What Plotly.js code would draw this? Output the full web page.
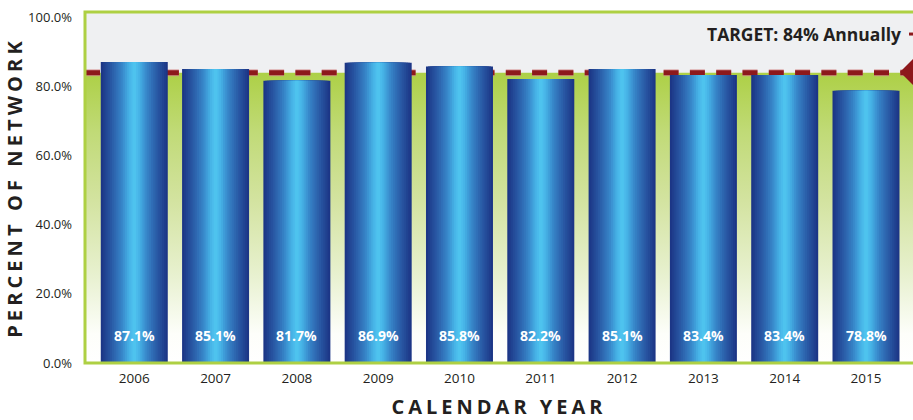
<!DOCTYPE html>
<html>
<head>
<meta charset="utf-8">
<script src="https://cdn.plot.ly/plotly-3.0.1.min.js"></script>
<style>
  html, body { margin: 0; padding: 0; background: #ffffff; }
  #chart { width: 913px; height: 420px; }
  .xtitle { letter-spacing: 4px; }
  .ytitle { letter-spacing: 4.1px; }
</style>
</head>
<body>
<div id="chart"></div>
<script>
// ---- data ----
const years = [2006, 2007, 2008, 2009, 2010, 2011, 2012, 2013, 2014, 2015];
const values = [87.1, 85.1, 81.7, 86.9, 85.8, 82.2, 85.1, 83.4, 83.4, 78.8];
const target = 84;
const yTickVals = [0, 20, 40, 60, 80, 100];
const yTickText = ['0.0%', '20.0%', '40.0%', '60.0%', '80.0%', '100.0%'];
const targetLabel = 'TARGET: 84% Annually';
const xTitle = 'CALENDAR YEAR';
const yTitle = 'PERCENT OF NETWORK';

// ---- styling helpers ----
const xRange = [years[0] - 0.606, years[0] + 9.578];
const yRange = [0, 101.6];
const barWidth = 0.824;
const darkRed = '#8d191c';
const textDark = '#231f20';

function hexToRgb(h) {
  h = h.replace('#', '');
  return [parseInt(h.slice(0, 2), 16), parseInt(h.slice(2, 4), 16), parseInt(h.slice(4, 6), 16)];
}
// colour as a function of distance from bar centre (0 = centre, 1 = edge)
const barStops = [
  [0.00, '#52caf2'],
  [0.18, '#46b2e6'],
  [0.42, '#3682c6'],
  [0.70, '#2a5ba6'],
  [1.00, '#1c3686']
];
function barColor(d) {
  for (let i = 1; i < barStops.length; i++) {
    if (d <= barStops[i][0]) {
      const [d0, c0] = barStops[i - 1];
      const [d1, c1] = barStops[i];
      const t = (d - d0) / (d1 - d0);
      const a = hexToRgb(c0), b = hexToRgb(c1);
      const c = a.map((v, k) => Math.round(v + (b[k] - v) * t));
      return 'rgb(' + c.join(',') + ')';
    }
  }
  return barStops[barStops.length - 1][1];
}

const traces = [];

// green gradient background below the target line
traces.push({
  type: 'scatter',
  x: xRange,
  y: [target, target],
  mode: 'none',
  fill: 'tozeroy',
  fillgradient: {
    type: 'vertical',
    colorscale: [
      [0.00, 'rgb(255,255,255)'],
      [0.10, 'rgb(253,254,250)'],
      [0.30, 'rgb(232,241,208)'],
      [0.56, 'rgb(211,227,160)'],
      [0.80, 'rgb(192,218,118)'],
      [1.00, 'rgb(173,208,70)']
    ]
  },
  hoverinfo: 'skip',
  showlegend: false
});

// target dashed line (halo + core)
traces.push({
  type: 'scatter',
  x: xRange,
  y: [target, target],
  mode: 'lines',
  line: { color: 'rgba(214,150,150,0.75)', width: 7, dash: '15px,11.3px' },
  hoverinfo: 'skip',
  showlegend: false
});
traces.push({
  type: 'scatter',
  x: xRange,
  y: [target, target],
  mode: 'lines',
  line: { color: darkRed, width: 5, dash: '15px,11.3px' },
  hoverinfo: 'skip',
  showlegend: false
});

// bars: layered overlay to emulate a horizontal cylinder gradient
const N = 18;
for (let k = 0; k < N; k++) {
  const frac = 1 - k / N;          // relative width of this layer
  traces.push({
    type: 'bar',
    x: years,
    y: values,
    yaxis: 'y2',
    width: barWidth * frac,
    marker: { color: barColor(frac), line: { width: 0 } },
    hoverinfo: k === 0 ? 'x+y' : 'skip',
    showlegend: false
  });
}

const annotations = years.map((yr, i) => ({
  x: yr,
  y: 8,
  xref: 'x',
  yref: 'y',
  text: values[i].toFixed(1) + '%',
  showarrow: false,
  font: { family: 'Open Sans, sans-serif', size: 14, color: '#ffffff', weight: 'bold' },
  xanchor: 'center',
  yanchor: 'middle'
}));

annotations.push({
  x: 0.9879,
  y: 0.9372,
  xref: 'paper',
  yref: 'paper',
  text: '<b>' + targetLabel + '</b>',
  showarrow: false,
  xanchor: 'right',
  yanchor: 'middle',
  font: { family: 'Open Sans, sans-serif', size: 17.5, color: textDark }
});

const shapes = [
  // plot border
  {
    type: 'rect', xref: 'paper', yref: 'paper',
    x0: 0, x1: 1.05, y0: 0, y1: 1,
    line: { color: '#aed043', width: 3 },
    fillcolor: 'rgba(0,0,0,0)',
    layer: 'above'
  },
  // arrow head at right end of target line
  {
    type: 'path', xref: 'paper', yref: 'paper',
    path: 'M 0.9843 0.8289 L 1.0036 0.8745 L 1.0036 0.7832 Z',
    fillcolor: darkRed,
    line: { width: 0 },
    layer: 'above'
  },
  // callout stub next to the label
  {
    type: 'line', xref: 'paper', yref: 'paper',
    x0: 0.9952, x1: 1.02, y0: 0.9372, y1: 0.9372,
    line: { color: darkRed, width: 3 },
    layer: 'above'
  }
];

const layout = {
  width: 913,
  height: 420,
  margin: { l: 85, r: 0, t: 12, b: 57.4, pad: 0 },
  paper_bgcolor: '#ffffff',
  plot_bgcolor: '#eff0f2',
  barmode: 'overlay',
  showlegend: false,
  font: { family: 'Open Sans, sans-serif', color: textDark },
  xaxis: {
    type: 'linear',
    range: xRange,
    tickvals: years,
    ticktext: years.map(String),
    showgrid: false,
    zeroline: false,
    showline: false,
    ticks: '',
    ticklabelstandoff: 5,
    tickfont: { family: 'Open Sans, sans-serif', size: 13.5, color: textDark },
    title: {
      text: xTitle,
      standoff: 14,
      font: { family: 'Open Sans, sans-serif', size: 20, color: textDark, weight: 'bold' }
    },
    fixedrange: true
  },
  yaxis: {
    range: yRange,
    tickvals: yTickVals,
    ticktext: yTickText,
    showgrid: false,
    zeroline: false,
    showline: false,
    ticks: '',
    ticklabelstandoff: 12,
    tickfont: { family: 'Open Sans, sans-serif', size: 13, color: textDark },
    title: {
      text: yTitle,
      standoff: 0,
      font: { family: 'Open Sans, sans-serif', size: 20, color: textDark, weight: 'bold' }
    },
    fixedrange: true
  },
  yaxis2: {
    range: yRange,
    overlaying: 'y',
    visible: false,
    fixedrange: true
  },
  annotations: annotations,
  shapes: shapes
};

Plotly.newPlot('chart', traces, layout, { displayModeBar: false, staticPlot: true });
</script>
</body>
</html>
